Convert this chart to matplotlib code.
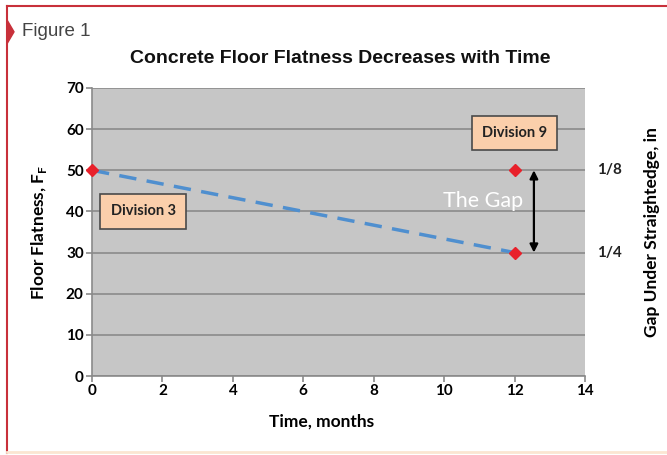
import matplotlib
matplotlib.use("Agg")
import matplotlib.pyplot as plt
from matplotlib.patches import Polygon
from matplotlib.lines import Line2D

# Data
trend_x = [0, 12]
trend_y = [50, 30]
marker_x = [0, 12, 12]
marker_y = [50, 50, 30]
gap_ticks = [50, 30]
gap_labels = ["1/8", "1/4"]
x_ticks = [0, 2, 4, 6, 8, 10, 12, 14]
y_ticks = [0, 10, 20, 30, 40, 50, 60, 70]

fig = plt.figure(figsize=(6.67, 4.55), dpi=100)
ax = fig.add_axes([0.138, 0.1736, 0.739, 0.633])
ax.set_facecolor("#c6c6c6")
ax.set_xlim(0, 14)
ax.set_ylim(0, 70)
ax.set_xticks(x_ticks)
ax.set_yticks(y_ticks)
ax.grid(axis="y", color="#8a8a8a", linewidth=1.2)
ax.set_axisbelow(True)
for s in ["top", "right"]:
    ax.spines[s].set_visible(False)
for s in ["left", "bottom"]:
    ax.spines[s].set_color("#8a8a8a")
    ax.spines[s].set_linewidth(1.2)
ax.tick_params(direction="out", color="#8a8a8a", length=4, width=1.2,
               labelsize=11, pad=2)
for lab in ax.get_xticklabels() + ax.get_yticklabels():
    lab.set_fontfamily("Lato")
    lab.set_fontweight("bold")

ax.plot(trend_x, trend_y, linestyle=(0, (5, 3)), color="#4f8fcf", linewidth=2.5,
        zorder=3)
ax.plot(marker_x, marker_y, linestyle="none", marker="D", color="#e8202a",
        markersize=6.5, zorder=4, clip_on=False)

ax.annotate("", xy=(12.55, 30), xytext=(12.55, 50),
            arrowprops=dict(arrowstyle="<|-|>", color="black", lw=1.6,
                            mutation_scale=12, shrinkA=0, shrinkB=0))
ax.text(11.1, 42.5, "The Gap", color="white", fontsize=15.5, fontfamily="Lato",
        ha="center", va="center")

box = dict(boxstyle="square,pad=0.7", facecolor="#fbcfab", edgecolor="#4a4a4a",
           linewidth=1.2)
ax.text(1.45, 40, "Division 3", fontsize=10.5, fontfamily="Lato", fontweight="bold",
        ha="center", va="center", bbox=box, color="#222222")
ax.text(12.0, 59, "Division 9", fontsize=10.5, fontfamily="Lato", fontweight="bold",
        ha="center", va="center", bbox=box, color="#222222")

# right-side labels
for yv, lbl in zip(gap_ticks, gap_labels):
    ax.text(14.35, yv, lbl, fontsize=11, fontfamily="Lato", fontweight="bold",
            ha="left", va="center", color="#222222")

ax.set_xlabel("Time, months", fontsize=12.5, fontfamily="Lato", fontweight="bold",
              labelpad=14)
ax.xaxis.set_label_coords(0.465, -0.13)
ax.set_ylabel("Floor Flatness, F$_\\mathregular{F}$", fontsize=12.5,
              fontfamily="Lato", fontweight="bold", labelpad=12)
fig.text(0.978, 0.49, "Gap Under Straightedge, in", rotation=90, fontsize=12.5,
         fontfamily="Lato", fontweight="bold", ha="center", va="center")

fig.text(0.51, 0.872, "Concrete Floor Flatness Decreases with Time",
         fontsize=14, fontfamily="Liberation Sans", fontweight="bold",
         ha="center", va="center", color="#111111")
fig.text(0.033, 0.93, "Figure 1", fontsize=13.5, fontfamily="Liberation Sans",
         ha="left", va="center", color="#444444")

# frame
fig.add_artist(Line2D([0.011, 1.0], [0.987, 0.987], color="#c8303a", lw=1.5,
                      transform=fig.transFigure))
fig.add_artist(Line2D([0.011, 0.011], [0.987, 0.005], color="#c8303a", lw=1.5,
                      transform=fig.transFigure))
fig.add_artist(Line2D([0.011, 1.0], [0.007, 0.007], color="#fbe6d2", lw=2,
                      transform=fig.transFigure))
fig.add_artist(Polygon([[0.011, 0.955], [0.021, 0.93], [0.011, 0.905]],
                       closed=True, color="#c8303a", transform=fig.transFigure))

fig.savefig("out.png", dpi=100)
